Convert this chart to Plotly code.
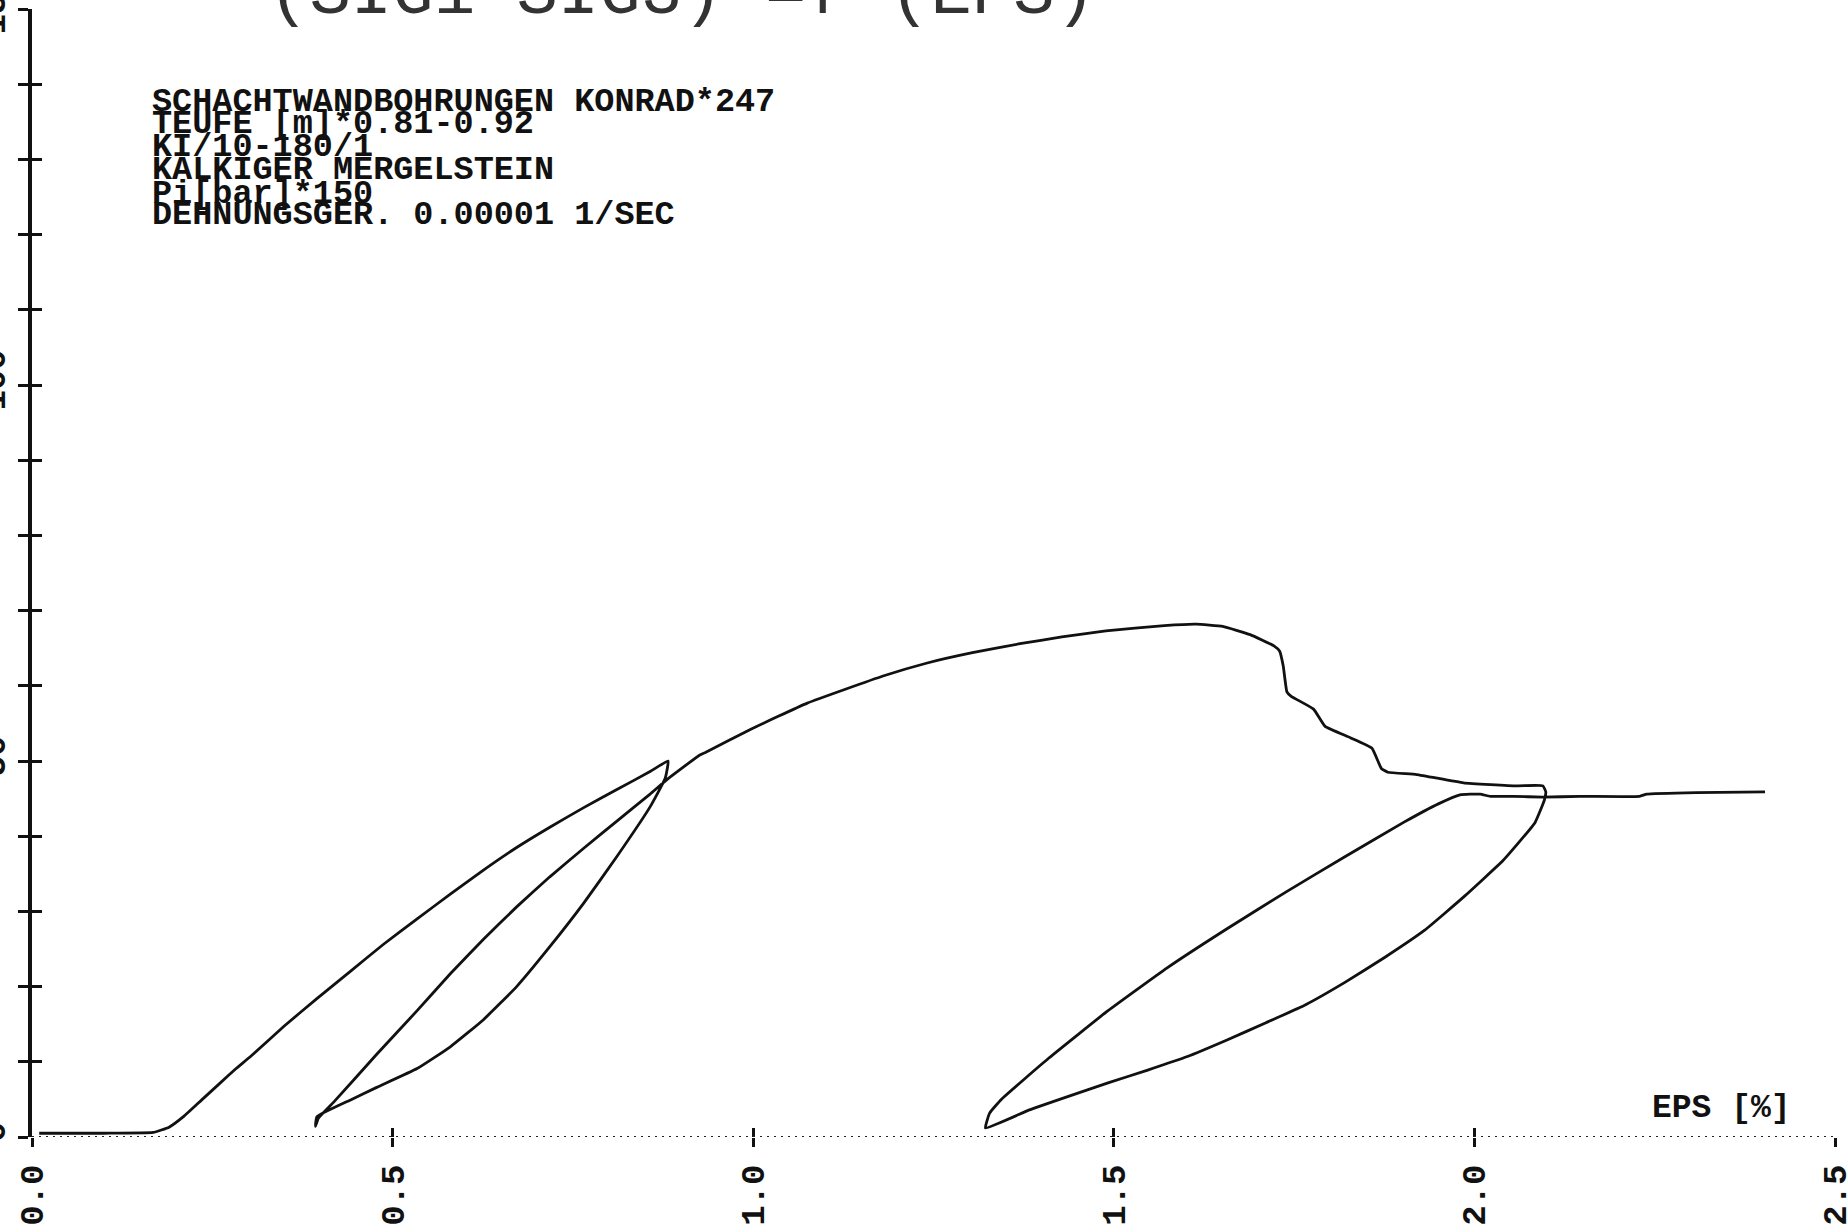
import plotly.graph_objects as go

# Triaxial test record: deviatoric stress (SIG1-SIG3) against axial strain EPS [%]
# first loading up to the first unloading point
load1_eps = [0.010, 0.100, 0.168, 0.190, 0.210, 0.235, 0.260, 0.283, 0.303, 0.349, 0.395,
             0.441, 0.487, 0.534, 0.580, 0.626, 0.672, 0.718, 0.765, 0.811, 0.857, 0.882]
load1_sig = [0.5, 0.5, 0.6, 1.3, 2.7, 4.9, 7.1, 9.1, 10.7, 14.7, 18.4,
             22.0, 25.6, 29.0, 32.3, 35.5, 38.5, 41.2, 43.8, 46.2, 48.6, 50.0]

# first unloading
unload1_eps = [0.878, 0.857, 0.811, 0.765, 0.718, 0.672, 0.626, 0.580, 0.534, 0.478,
               0.441, 0.395, 0.393]
unload1_sig = [47.7, 43.9, 37.3, 31.1, 25.3, 20.0, 15.6, 12.0, 9.1, 6.6,
               4.9, 2.7, 1.4]

# first reloading
reload1_eps = [0.397, 0.418, 0.478, 0.534, 0.580, 0.626, 0.672, 0.718, 0.765, 0.811,
               0.857, 0.880, 0.926]
reload1_sig = [2.5, 4.6, 11.0, 16.8, 21.7, 26.3, 30.6, 34.6, 38.4, 42.0,
               45.6, 47.5, 50.8]

# loading through the peak and post-peak softening
peak_eps = [0.933, 0.994, 1.075, 1.180, 1.240, 1.304, 1.370, 1.428, 1.489, 1.570,
            1.614, 1.651, 1.689, 1.722, 1.730, 1.735, 1.740, 1.746, 1.777, 1.793,
            1.828, 1.858, 1.871, 1.880, 1.920, 1.985, 2.059, 2.095]
peak_sig = [51.1, 54.1, 57.7, 61.3, 63.0, 64.4, 65.6, 66.5, 67.3, 68.0,
            68.2, 67.9, 66.8, 65.3, 64.6, 62.6, 59.2, 58.6, 56.9, 54.6,
            53.1, 51.7, 49.0, 48.5, 48.2, 47.1, 46.7, 46.7]

# second unloading
unload2_eps = [2.099, 2.097, 2.084, 2.040, 1.986, 1.931, 1.876, 1.821, 1.766, 1.711,
               1.657, 1.602, 1.547, 1.492, 1.437, 1.383, 1.322]
unload2_sig = [45.9, 44.8, 41.8, 36.8, 32.0, 27.5, 23.9, 20.6, 17.6, 15.2,
               12.9, 10.7, 8.9, 7.2, 5.4, 3.6, 1.2]

# second reloading and residual strength
reload2_eps = [1.328, 1.344, 1.410, 1.492, 1.574, 1.657, 1.739, 1.821, 1.903, 1.950,
               1.980, 2.008, 2.022, 2.054, 2.095, 2.146, 2.229, 2.239, 2.308, 2.403]
reload2_sig = [3.2, 5.0, 10.5, 16.8, 22.5, 27.7, 32.6, 37.3, 41.9, 44.3,
               45.5, 45.6, 45.3, 45.3, 45.2, 45.3, 45.3, 45.6, 45.8, 45.9]

eps = load1_eps + unload1_eps + reload1_eps + peak_eps + unload2_eps + reload2_eps
sig = load1_sig + unload1_sig + reload1_sig + peak_sig + unload2_sig + reload2_sig

x_ticks = [0.0, 0.5, 1.0, 1.5, 2.0, 2.5]
x_tick_text = ["0.0", "0.5", "1.0", "1.5", "2.0", "2.5"]
y_ticks = list(range(0, 151, 10))
y_tick_text = [str(v) if v % 50 == 0 else "" for v in y_ticks]

title_text = "(SIG1-SIG3) =f (EPS)"
info_lines = [
    "SCHACHTWANDBOHRUNGEN KONRAD*247",
    "TEUFE [m]*0.81-0.92",
    "KI/10-180/1",
    "KALKIGER MERGELSTEIN",
    "Pi[bar]*150",
    "DEHNUNGSGER. 0.00001 1/SEC",
]
x_title = "EPS [%]"

# page geometry
W, H = 1848, 1232
ML, MR, MT, MB = 32, 13, 9, 95
PW, PH = W - ML - MR, H - MT - MB


def paper_x(px):
    return (px - ML) / PW


def paper_y(py):
    return (H - MB - py) / PH


FONT = "Liberation Mono"
INK = "#111111"

fig = go.Figure()
fig.add_trace(go.Scatter(x=eps, y=sig, mode="lines",
                         line=dict(color=INK, width=2.8, shape="spline", smoothing=0.35),
                         hoverinfo="skip", showlegend=False))
# carrier for the second (inside-tick) axis pair
fig.add_trace(go.Scatter(x=[None], y=[None], xaxis="x2", yaxis="y2",
                         showlegend=False, hoverinfo="skip"))

axis_font = dict(family=FONT, size=34, color=INK, weight="bold")

fig.update_layout(
    width=W, height=H,
    margin=dict(l=ML, r=MR, t=MT, b=MB, pad=0, autoexpand=False),
    paper_bgcolor="white", plot_bgcolor="white",
    showlegend=False,
    xaxis=dict(range=[0, 2.5], tickvals=x_ticks, ticktext=x_tick_text,
               tickangle=-90, ticks="outside", ticklen=9, tickwidth=2.5,
               tickcolor=INK, tickfont=axis_font, showgrid=False,
               zeroline=False, showline=False, ticklabelstandoff=4,
               ticklabeloverflow="allow", automargin=False, fixedrange=True),
    yaxis=dict(range=[0, 150], tickvals=y_ticks, ticktext=y_tick_text,
               tickangle=-90, ticks="outside", ticklen=10, tickwidth=2.5,
               tickcolor=INK, tickfont=axis_font, showgrid=False,
               zeroline=False, showline=True, linecolor=INK, linewidth=3.5,
               ticklabelstandoff=0, ticklabeloverflow="allow",
               automargin=False, fixedrange=True),
    xaxis2=dict(range=[0, 2.5], overlaying="x", anchor="y", side="bottom",
                tickvals=x_ticks, ticks="inside", ticklen=9, tickwidth=2.5,
                tickcolor=INK, showticklabels=False, showgrid=False,
                zeroline=False, showline=False, automargin=False),
    yaxis2=dict(range=[0, 150], overlaying="y", anchor="x", side="left",
                tickvals=y_ticks, ticks="inside", ticklen=10, tickwidth=2.5,
                tickcolor=INK, showticklabels=False, showgrid=False,
                zeroline=False, showline=False, automargin=False),
)

# dotted strain axis
fig.add_shape(type="line", xref="x", yref="y", x0=0, x1=2.5, y0=0, y1=0,
              line=dict(color="#222222", width=1.8, dash="2px,5px"))

annotations = [
    dict(text=title_text, x=paper_x(266), y=paper_y(-5), xref="paper", yref="paper",
         xanchor="left", yanchor="middle", showarrow=False,
         font=dict(family=FONT, size=69, color="#333333")),
    dict(text=x_title, x=paper_x(1650), y=paper_y(1108), xref="paper", yref="paper",
         xanchor="left", yanchor="middle", showarrow=False,
         font=dict(family=FONT, size=33, color=INK, weight="bold")),
]
line_centres = [102, 124.5, 147, 170.5, 194, 215.5]
for txt, cy in zip(info_lines, line_centres):
    annotations.append(dict(text=txt, x=paper_x(150), y=paper_y(cy), xref="paper",
                            yref="paper", xanchor="left", yanchor="middle",
                            showarrow=False,
                            font=dict(family=FONT, size=33.5, color=INK, weight="bold")))
fig.update_layout(annotations=annotations)

fig.write_html("out.html")
